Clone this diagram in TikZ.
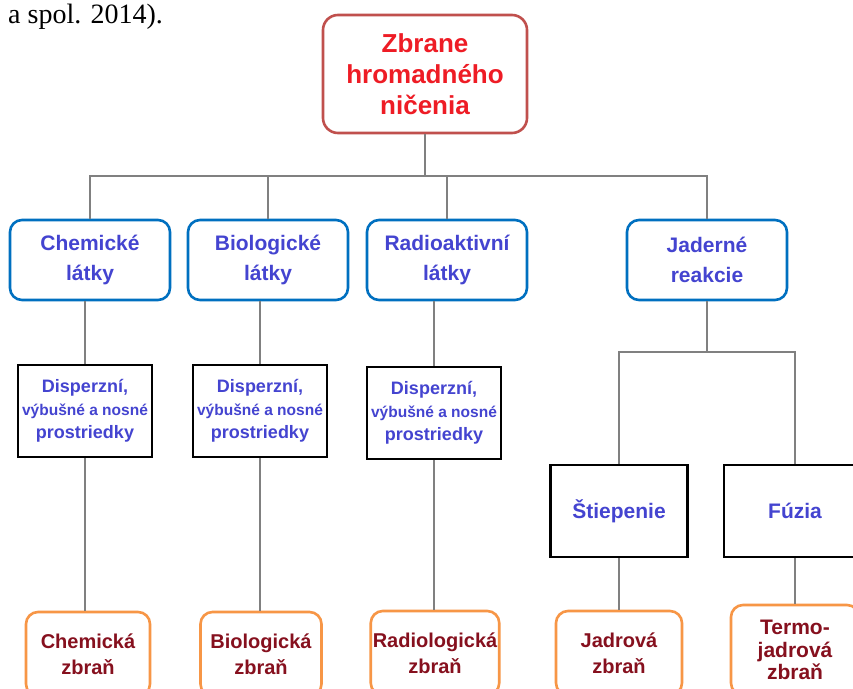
\documentclass[tikz,border=0pt]{standalone}
\usepackage{fontspec}
\setmainfont{Liberation Sans}
\newfontfamily\citefont{Liberation Serif}
\usepackage{xcolor}
\usepackage{tikz}
\usetikzlibrary{positioning, calc}
\definecolor{zhRed}{HTML}{EE1C25}
\definecolor{zhRedDark}{HTML}{C0504D}
\definecolor{zhBlue}{HTML}{0070C0}
\definecolor{zhBlueText}{HTML}{4444D0}
\definecolor{zhOrange}{HTML}{F79646}
\definecolor{zhMaroon}{HTML}{86101E}
\definecolor{zhGray}{HTML}{808080}
\tikzset{
  card/.style={
    rectangle, rounded corners=12pt,
    draw=#1, line width=2.6pt,
    fill=white,
    inner sep=2pt,
    align=center
  },
  meansbox/.style={
    rectangle, draw=black, line width=2.8pt,
    fill=white, inner sep=2pt,
    minimum width=134pt, minimum height=92pt,
    align=center, text=zhBlueText,
    font=\fontsize{18pt}{23pt}\selectfont\bfseries
  },
  groupcard/.style={
    card=zhBlue, text=zhBlueText,
    minimum width=160pt, minimum height=80pt,
    font=\fontsize{21pt}{30pt}\selectfont\bfseries
  },
  weaponcard/.style={
    card=zhOrange, text=zhMaroon,
    minimum width=124pt, minimum height=84pt,
    font=\fontsize{20pt}{26pt}\selectfont\bfseries
  },
  link/.style={zhGray, line width=1.8pt}
}

\begin{document}
\begin{tikzpicture}[x=1pt, y=-1pt]
      \clip (0,0) rectangle (853,688);
      \fill[white] (0,0) rectangle (853,688);
      \node[anchor=base west, inner sep=0pt, font=\citefont\fontsize{28pt}{28pt}\selectfont] (cite) at (8,23) {a spol. 2014).};
      % root
      \node[card=zhRedDark, rounded corners=15pt, text=zhRed, minimum width=204pt, minimum height=118pt,
            font=\fontsize{26pt}{31pt}\selectfont\bfseries] (root) at (425,74) {Zbrane\\hromadného\\ničenia};
      % latky
      \node[groupcard] (chem) at (90,260) {Chemické\\látky};
      \node[groupcard] (bio) at (268,260) {Biologické\\látky};
      \node[groupcard] (radio) at (447,260) {Radioaktivní\\látky};
      \node[groupcard] (jad) at (707,260) {Jaderné\\reakcie};
      % prostriedky
      \node[meansbox] (disp1) at (85,411) {Disperzní,\\{\fontsize{15.5pt}{22pt}\selectfont výbušné a nosné}\\prostriedky};
      \node[meansbox] (disp2) at (260,411) {Disperzní,\\{\fontsize{15.5pt}{22pt}\selectfont výbušné a nosné}\\prostriedky};
      \node[meansbox] (disp3) at (434,413) {Disperzní,\\{\fontsize{15.5pt}{22pt}\selectfont výbušné a nosné}\\prostriedky};
      \node[meansbox, minimum width=137pt, font=\fontsize{21pt}{26pt}\selectfont\bfseries] (stiep) at (619,511) {Štiepenie};
      \node[meansbox, minimum width=142pt, font=\fontsize{21pt}{26pt}\selectfont\bfseries] (fuzia) at (795,511) {Fúzia};
      % zbrane
      \node[weaponcard] (chemw) at (88,654) {Chemická\\zbraň};
      \node[weaponcard, minimum width=121pt] (biow) at (261,654) {Biologická\\zbraň};
      \node[weaponcard, minimum width=127pt] (radiow) at (435,653) {Radiologická\\zbraň};
      \node[weaponcard, minimum width=126pt] (jadw) at (619,653) {Jadrová\\zbraň};
      \node[weaponcard, minimum width=128pt, minimum height=90pt,
            font=\fontsize{21pt}{22.5pt}\selectfont\bfseries] (termw) at (795,650) {Termo-\\jadrová\\zbraň};
      % spojnice
      \coordinate (bus) at (425,176);
      \coordinate (jbus) at (707,352);
      \draw[link] (root) -- (bus);
      \draw[link] (bus) -| (chem);
      \draw[link] (bus) -| (bio);
      \draw[link] (bus) -| (radio);
      \draw[link] (bus) -| (jad);
      \draw[link] (disp1.north |- chem.south) -- (disp1);
      \draw[link] (disp2.north |- bio.south) -- (disp2);
      \draw[link] (disp3.north |- radio.south) -- (disp3);
      \draw[link] (disp1) -- (disp1.south |- chemw.north);
      \draw[link] (disp2) -- (disp2.south |- biow.north);
      \draw[link] (disp3) -- (disp3.south |- radiow.north);
      \draw[link] (jad) -- (jbus);
      \draw[link] (jbus) -| (stiep);
      \draw[link] (jbus) -| (fuzia);
      \draw[link] (stiep) -- (jadw);
      \draw[link] (fuzia) -- (termw);
    \end{tikzpicture}
\end{document}
